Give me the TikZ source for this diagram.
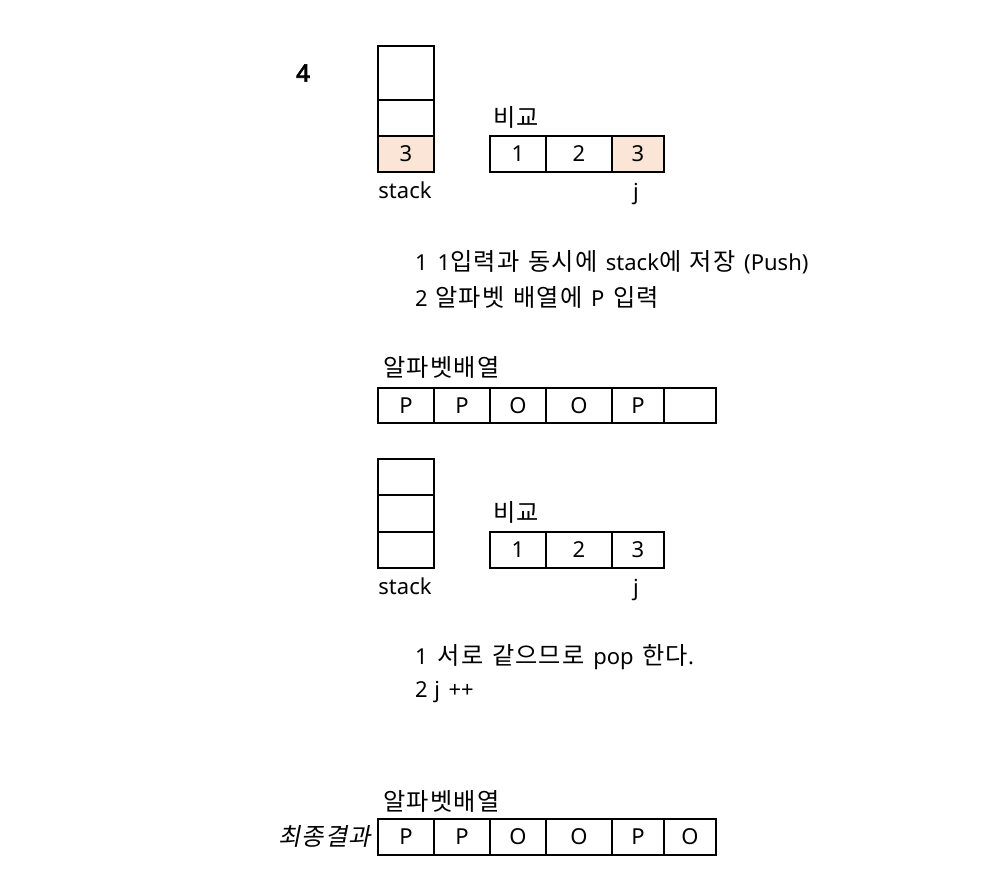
\documentclass[tikz,border=0pt]{standalone}
\usepackage{fontspec}
\setmainfont[WordSpace=1.5, AutoFakeBold=3]{Noto Sans}
\newfontfamily\kr[Scale=1.1, LetterSpace=5, WordSpace=1.3, AutoFakeSlant=0.2]{Noto Sans CJK KR}
\definecolor{peach}{HTML}{FBE5D6}
\begin{document}
\begin{tikzpicture}[x=1pt,y=-1pt]
\tikzset{kan/.style={draw, line width=1.8pt, inner sep=0pt, anchor=north west, minimum height=36pt, font=\fontsize{22}{26}\selectfont},
lab/.style={inner sep=0pt, font=\fontsize{22}{26}\selectfont}}
\useasboundingbox (0,0) rectangle (982,876);
\node[lab, font=\fontsize{24}{28}\selectfont\bfseries] (N4) at (303,73) {4};
\node[kan, minimum width=56pt, minimum height=54pt] (SA1) at (377,45) {};
\node[kan, minimum width=56pt] (SA2) at (377,99) {};
\node[kan, minimum width=56pt, fill=peach] (SA3) at (377,135) {3};
\node[lab] (SAL) at (405,190) {stack};
\node[lab, anchor=west] (CAL) at (493,117) {\kr 비교};
\node[kan, minimum width=56pt] (CA1) at (489,135) {1};
\node[kan, minimum width=66pt] (CA2) at (545,135) {2};
\node[kan, minimum width=52pt, fill=peach] (CA3) at (611,135) {3};
\node[lab] (JA) at (636,194) {j};
\node[lab, anchor=west] (TA1) at (415,262) {1\hspace{0.45em}1{\kr 입력과 동시에} stack{\kr 에 저장} (Push)};
\node[lab, anchor=west] (TA2) at (415,297) {2\hspace{0.35em}{\kr 알파벳 배열에} P {\kr 입력}};
\node[lab, anchor=west] (ALA) at (383,367) {\kr 알파벳배열};
\node[kan, minimum width=56pt, minimum height=35pt] (AA1) at (377,387) {P};
\node[kan, minimum width=56pt, minimum height=35pt] (AA2) at (433,387) {P};
\node[kan, minimum width=56pt, minimum height=35pt] (AA3) at (489,387) {O};
\node[kan, minimum width=66pt, minimum height=35pt] (AA4) at (545,387) {O};
\node[kan, minimum width=52pt, minimum height=35pt] (AA5) at (611,387) {P};
\node[kan, minimum width=52pt, minimum height=35pt] (AA6) at (663,387) {};
\node[kan, minimum width=56pt] (SB1) at (377,458) {};
\node[kan, minimum width=56pt, minimum height=37pt] (SB2) at (377,494) {};
\node[kan, minimum width=56pt] (SB3) at (377,531) {};
\node[lab] (SBL) at (405,586) {stack};
\node[lab, anchor=west] (CBL) at (493,512) {\kr 비교};
\node[kan, minimum width=56pt] (CB1) at (489,531) {1};
\node[kan, minimum width=66pt] (CB2) at (545,531) {2};
\node[kan, minimum width=52pt] (CB3) at (611,531) {3};
\node[lab] (JB) at (636,590) {j};
\node[lab, anchor=west] (TB1) at (415,657) {1\hspace{0.45em}{\kr 서로 같으므로} pop {\kr 한다}.};
\node[lab, anchor=west] (TB2) at (415,692) {2\hspace{0.3em}j ++};
\node[lab, anchor=west] (ALB) at (383,801) {\kr 알파벳배열};
\node[lab, anchor=east, font=\fontsize{22}{26}\selectfont\kr\itshape] (FIN) at (371,836) {최종결과};
\node[kan, minimum width=56pt] (AB1) at (377,818) {P};
\node[kan, minimum width=56pt] (AB2) at (433,818) {P};
\node[kan, minimum width=56pt] (AB3) at (489,818) {O};
\node[kan, minimum width=66pt] (AB4) at (545,818) {O};
\node[kan, minimum width=52pt] (AB5) at (611,818) {P};
\node[kan, minimum width=52pt] (AB6) at (663,818) {O};
\end{tikzpicture}
\end{document}
